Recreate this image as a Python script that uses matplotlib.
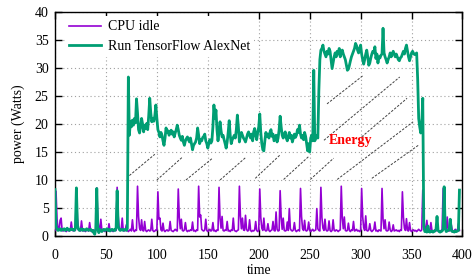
import matplotlib
matplotlib.use("Agg")
import matplotlib.pyplot as plt
import numpy as np

plt.rcParams['font.family'] = ['Liberation Serif', 'DejaVu Serif']

# ---------------- data ----------------
cpu_idle_time = list(range(0, 398))
cpu_idle = [1.0,
    8.0, 3.0, 1.2, 1.0, 2.8, 3.2, 1.0, 0.9, 1.1, 1.0, 0.8, 1.0, 1.2, 0.9, 1.0, 2.5, 1.1, 0.9, 1.2, 1.0,
    8.4, 3.2, 1.3, 1.0, 0.9, 2.7, 1.1, 0.9, 1.0, 0.8, 1.2, 1.0, 0.9, 2.4, 1.0, 0.8, 1.0, 1.1, 0.9, 1.0,
    8.6, 3.0, 1.4, 1.0, 3.0, 1.1, 0.9, 1.0, 0.8, 1.0, 1.2, 0.9, 2.2, 1.0, 0.9, 1.1, 0.8, 1.0, 1.2, 1.0,
    8.7, 3.6, 1.5, 1.0, 1.2, 3.2, 1.0, 0.9, 1.1, 2.0, 1.0, 0.8, 1.0, 1.2, 0.9, 2.9, 1.0, 0.8, 1.1, 1.0,
    8.9, 3.5, 1.4, 1.0, 2.9, 1.0, 0.9, 2.6, 1.0, 0.8, 1.0, 1.1, 0.9, 1.0, 3.0, 1.0, 0.8, 0.9, 1.1, 1.0,
    7.9, 3.0, 3.2, 1.1, 0.9, 2.3, 1.0, 0.8, 1.0, 1.1, 0.9, 1.0, 2.6, 1.0, 0.9, 0.8, 1.0, 1.2, 1.0, 0.9,
    8.4, 3.3, 1.3, 3.0, 1.0, 0.9, 1.1, 2.4, 1.0, 0.8, 1.0, 0.9, 1.1, 1.0, 2.5, 0.9, 1.0, 0.8, 1.1, 1.0,
    8.9, 3.4, 3.75, 1.2, 1.0, 0.9, 1.1, 3.0, 1.0, 0.8, 1.0, 1.2, 0.9, 1.0, 2.4, 0.9, 1.0, 0.8, 1.1, 1.0,
    8.7, 3.2, 1.4, 3.5, 1.0, 0.9, 1.1, 1.0, 2.6, 0.9, 1.0, 0.8, 1.1, 1.0, 3.2, 1.0, 0.9, 0.8, 1.0, 1.1,
    8.9, 3.6, 1.3, 3.2, 1.1, 1.0, 3.7, 1.2, 0.9, 1.0, 2.9, 1.0, 0.8, 1.0, 0.9, 1.1, 2.6, 1.0, 0.8, 1.0,
    8.4, 3.3, 1.4, 1.0, 3.2, 1.1, 0.9, 1.0, 2.2, 1.0, 0.8, 1.0, 1.1, 2.6, 1.0, 0.9, 4.3, 1.2, 0.9, 1.0,
    8.1, 3.4, 1.2, 3.2, 1.0, 0.9, 1.0, 2.5, 1.0, 4.9, 1.3, 1.0, 0.9, 1.1, 2.4, 1.0, 0.8, 1.0, 1.1, 0.9,
    8.5, 3.5, 1.3, 1.0, 2.8, 1.0, 0.9, 1.1, 2.5, 1.0, 0.8, 1.0, 1.2, 0.9, 1.0, 1.1, 4.9, 1.3, 1.0, 0.9,
    8.7, 3.3, 1.4, 1.0, 3.0, 1.1, 0.9, 1.0, 2.7, 1.0, 0.8, 1.0, 2.9, 1.0, 0.9, 1.1, 1.0, 0.8, 1.0, 1.1,
    8.9, 3.2, 1.3, 3.4, 1.0, 0.9, 1.0, 2.3, 1.0, 0.8, 1.1, 1.0, 2.6, 0.9, 1.0, 1.2, 0.9, 1.0, 0.8, 1.0,
    8.5, 3.5, 1.5, 1.0, 3.6, 1.0, 0.9, 1.1, 2.2, 1.0, 0.8, 1.0, 1.2, 2.5, 0.9, 1.0, 0.8, 1.1, 1.0, 0.9,
    8.5, 3.0, 1.3, 2.9, 1.0, 0.9, 1.0, 2.5, 1.1, 0.8, 1.0, 2.0, 0.9, 1.0, 1.1, 0.9, 1.0, 0.8, 1.1, 1.0,
    7.9, 3.4, 1.4, 1.0, 3.1, 1.0, 0.9, 2.4, 1.0, 0.8, 1.0, 1.1, 0.9, 1.0, 0.8, 1.0, 1.2, 1.0, 0.9, 1.1,
    8.2, 3.3, 1.2, 1.0, 2.8, 1.0, 0.9, 1.0, 2.4, 1.0, 0.8, 1.0, 1.1, 0.9, 2.6, 1.0, 0.9, 0.8, 1.0, 1.1,
    8.5, 3.0, 1.3, 1.0, 3.4, 1.1, 0.9, 1.0, 2.0, 1.0, 0.8, 1.0, 1.2, 0.9, 1.0, 2.2, 1.0,
]

alexnet_time = list(range(0, 398))
alexnet = [
    # 0-71 idle before the run
    8.3, 1.8, 1.2, 1.0, 1.1, 1.3, 1.0, 1.2, 1.1, 1.3, 1.0, 1.2, 1.4, 1.1, 1.0, 1.2, 1.3, 1.1, 1.2, 1.0,
    1.4, 8.6, 2.0, 1.2, 1.0, 1.1, 1.3, 1.0, 1.2, 1.1, 1.0, 1.3, 1.2, 1.0, 1.1, 1.2, 0.9, 1.0, 0.6, 0.3,
    1.2, 8.5, 1.6, 0.6, 1.2, 1.0, 0.8, 1.1, 1.2, 1.0, 1.1, 1.3, 1.0, 1.2, 0.9, 1.1, 1.2, 1.0, 1.1, 1.0,
    1.5, 8.1, 1.8, 1.2, 1.0, 1.1, 1.2, 1.0, 1.1, 1.2, 1.0, 1.3,
    # 72-253 first phase
    28.4, 18.0, 20.5, 19.5, 20.7, 19.8, 21.0, 20.2, 24.5, 22.0, 19.0, 18.4, 19.5, 21.0, 20.0, 18.6, 19.8, 19.2,
    20.1, 19.0, 21.5, 24.6, 22.0, 20.4, 21.0, 20.5, 21.5, 23.4, 21.0, 19.0, 18.5, 17.7, 18.5, 18.0, 17.0, 16.2,
    17.5, 19.3, 18.5, 18.8, 18.0, 18.5, 18.9, 18.2, 18.6, 17.7, 18.4, 19.0, 19.8, 19.0, 18.0, 17.5, 17.1, 17.8,
    16.8, 16.2, 17.0, 17.4, 17.7, 17.2, 16.8, 17.5, 16.5, 15.4, 16.2, 16.5, 16.8, 17.5, 19.3, 18.0, 16.5, 17.2,
    17.0, 17.6, 17.8, 18.2, 17.0, 16.5, 15.7, 16.5, 17.2, 16.6, 17.0, 19.5, 23.4, 21.0, 22.5, 19.0, 17.0, 18.5,
    20.4, 18.8, 17.7, 18.0, 17.2, 16.5, 15.7, 16.8, 18.5, 20.6, 18.0, 16.5, 17.2, 17.6, 18.0, 17.5, 19.0, 21.6,
    19.5, 16.8, 17.8, 18.5, 18.0, 17.5, 17.2, 16.8, 17.5, 18.2, 18.6, 18.0, 17.5, 18.2, 17.0, 18.6, 19.2, 18.0,
    17.2, 18.5, 19.5, 21.8, 18.5, 16.5, 15.4, 15.2, 17.0, 18.5, 17.8, 18.2, 17.5, 18.5, 19.0, 17.8, 18.2, 17.0,
    17.5, 18.0, 16.8, 17.5, 19.0, 21.4, 19.5, 18.0, 17.5, 18.2, 18.6, 17.5, 17.0, 17.8, 18.5, 17.5, 18.0, 16.8,
    17.5, 18.2, 17.6, 18.0, 19.0, 18.5, 19.8, 18.2, 17.5, 18.0, 17.2, 18.5, 17.8, 16.5, 15.2, 16.5, 15.0, 17.5,
    18.0, 17.0,
    # 254-361 second phase
    29.6, 17.0, 17.5, 18.0, 17.5, 26.0, 31.5, 33.2, 33.5, 34.1, 33.0, 32.5, 32.0, 33.0, 32.5, 33.5, 33.0, 31.5,
    29.9, 31.0, 32.0, 32.7, 32.0, 33.0, 32.5, 33.5, 32.0, 32.8, 33.2, 32.5, 32.0, 31.5, 30.5, 29.6, 29.8, 30.5,
    31.3, 32.0, 32.5, 33.0, 33.5, 34.4, 34.0, 33.2, 32.7, 33.5, 34.1, 32.5, 31.5, 30.7, 31.5, 32.5, 33.2, 32.0,
    30.5, 30.9, 31.8, 32.5, 33.0, 32.7, 33.8, 31.7, 32.5, 30.9, 32.0, 31.8, 32.3, 32.5, 37.1, 32.7, 32.0, 31.5,
    30.9, 31.5, 32.0, 32.7, 32.0, 32.5, 33.0, 32.5, 32.0, 32.5, 32.0, 31.5, 31.3, 31.8, 32.0, 32.5, 33.0, 32.5,
    33.5, 34.1, 33.0, 32.0, 31.3, 32.0, 32.7, 33.0, 32.6, 32.4, 32.5, 32.7, 28.0, 21.0, 19.5, 18.4, 20.0, 24.6,
    # 362-397 idle after the run
    1.7, 0.8, 0.9, 0.7, 1.8, 0.8, 0.7, 0.8, 0.9, 0.7, 0.8, 0.9, 1.2, 3.5, 1.0, 0.8, 0.7, 0.8, 0.9, 1.2,
    8.8, 1.5, 0.8, 0.9, 1.0, 1.2, 3.0, 1.0, 0.8, 0.8, 0.7, 0.9, 0.8, 0.9, 1.0, 8.2,
]

series_labels = ["CPU idle", "Run TensorFlow AlexNet"]
x_ticks = [0, 50, 100, 150, 200, 250, 300, 350, 400]
y_ticks = [0, 5, 10, 15, 20, 25, 30, 35, 40]

# hatch segments marking the energy area (start t, start W, end t, end W)
hatch_segments = [
    (73, 10.8, 98, 14.6),
    (100, 10.0, 124.5, 14.0),
    (128.5, 10.0, 154.6, 13.9),
    (162, 10.0, 187, 14.0),
    (196.6, 10.3, 221, 14.5),
    (224.4, 10.1, 249, 14.2),
    (250.6, 10.1, 273.5, 13.9),
    (277, 10.1, 351.5, 20.4),
    (311, 10.3, 357, 16.25),
    (301, 17.7, 345.6, 24.6),
    (264, 17.1, 338.4, 28.4),
    (267, 23.6, 303, 28.75),
]

# ---------------- figure ----------------
fig = plt.figure(figsize=(4.77, 2.80), dpi=100)
ax = fig.add_axes([0.1153, 0.157, 0.8543, 0.800])

purple = "#9400D3"
green = "#009E73"

ax.plot(cpu_idle_time, cpu_idle, color=purple, lw=1.2, label=series_labels[0], zorder=3)
ax.plot(alexnet_time, alexnet, color=green, lw=2.0, label=series_labels[1], zorder=4)

for (x0, y0, x1, y1) in hatch_segments:
    ax.plot([x0, x1], [y0, y1], color="#404040", lw=0.7, dashes=(2.5, 1.5), zorder=2)

ax.text(290, 17.0, "Energy", color="red", fontweight="bold", fontsize=10,
        ha="center", va="center", zorder=5)

ax.set_xlim(0, 400)
ax.set_ylim(0, 40)
ax.set_xticks(x_ticks)
ax.set_yticks(y_ticks)
ax.tick_params(axis="both", direction="in", length=5, width=1, top=True, right=True,
               labelsize=10, colors="black")
ax.tick_params(axis="x", pad=9)
ax.tick_params(axis="y", pad=4.5)
ax.set_xlabel("time", fontsize=10, labelpad=2)
ax.set_ylabel("power (Watts)", fontsize=10, labelpad=7)
ax.grid(True, color="#a0a0a0", linestyle=(0, (1, 2.5)), lw=0.8)
ax.set_axisbelow(True)
for sp in ax.spines.values():
    sp.set_linewidth(1.0)

leg = ax.legend(loc="upper left", bbox_to_anchor=(0.014, 1.0), fontsize=10, frameon=True,
                handlelength=2.3, handletextpad=0.5, borderaxespad=0.3, labelspacing=0.45,
                fancybox=False, borderpad=0.3)
leg.get_frame().set_edgecolor("none")
leg.get_frame().set_facecolor("white")
leg.get_frame().set_alpha(1.0)

fig.savefig("out.png", dpi=100)
